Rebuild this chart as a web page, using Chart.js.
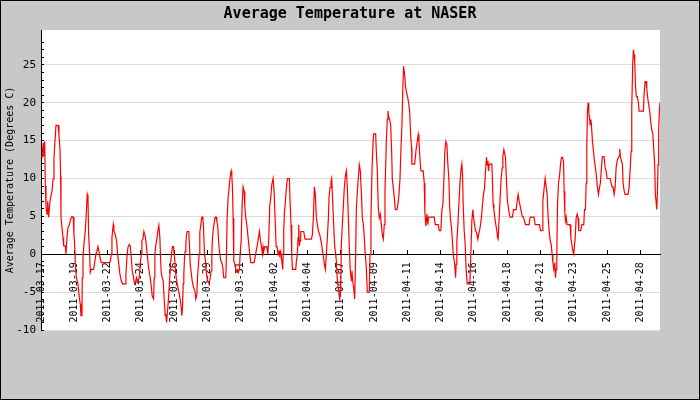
<!DOCTYPE html>
<html><head><meta charset="utf-8">
<script src="https://cdn.jsdelivr.net/npm/chart.js@4/dist/chart.umd.min.js"></script>
<style>
html,body{margin:0;padding:0;background:#c8c8c8;}
#wrap{position:relative;width:700px;height:400px;box-sizing:border-box;border:1px solid #000;background:#c8c8c8;}
canvas{display:block;}
</style></head><body>
<div id="wrap"><canvas id="c" width="698" height="398"></canvas></div>
<script>
// hours since the first tick (2011-03-17)
const hours = [1.7,3.9,5.0,6.2,7.3,8.4,10.1,11.2,12.9,14.6,16.2,18.5,20.2,21.8,23.5,25.2,28.6,30.2,31.9,33.0,33.6,35.3,37.0,38.1,40.9,42.0,43.7,45.4,47.6,49.8,52.1,54.3,55.4,56.6,57.7,59.4,62.2,64.4,66.1,67.2,68.9,69.4,70.6,72.2,74.5,76.2,77.8,79.0,80.1,81.8,82.9,84.6,88.5,90.2,92.4,94.1,95.8,97.4,99.1,101.4,113.7,116.5,118.2,119.3,121.5,122.6,124.9,127.1,128.8,130.5,132.7,135.0,137.2,141.7,142.8,144.5,146.2,148.4,150.1,151.8,153.4,155.7,157.4,159.0,160.7,163.0,165.2,166.9,168.6,169.7,171.4,173.0,175.3,177.0,178.6,180.9,183.7,185.4,187.0,189.3,190.4,191.5,193.2,194.9,196.6,198.2,199.9,201.0,202.2,203.8,205.5,207.2,208.9,
210.0,211.1,212.8,214.5,216.2,217.8,219.5,221.2,222.9,224.6,225.7,227.4,229.0,231.3,233.5,235.2,236.9,238.0,239.1,240.2,241.4,242.5,243.6,244.7,245.8,248.6,249.8,250.9,252.6,254.2,256.5,258.7,260.4,262.1,263.2,264.9,266.0,267.1,268.8,270.5,272.2,273.3,275.0,276.6,278.3,280.0,281.7,282.8,284.5,286.2,287.3,288.4,290.1,291.8,292.9,294.6,295.7,297.4,299.0,300.7,302.4,304.1,305.8,307.4,310.8,311.9,313.0,314.7,316.4,318.1,319.8,320.9,322.0,323.1,324.2,325.9,327.6,329.8,331.0,332.1,333.8,334.9,336.6,338.2,339.9,341.6,342.7,344.4,346.1,347.8,349.4,351.1,352.8,358.4,360.1,361.8,364.0,365.7,367.4,369.0,370.7,372.4,373.5,374.6,376.3,379.7,381.4,383.0,384.7,386.4,388.1,390.3,392.0,393.7,395.4,397.0,398.7,400.4,401.5,403.2,404.9,406.6,407.1,408.2,409.4,411.0,412.7,414.4,417.7,
418.9,420.5,421.7,422.8,428.4,429.5,431.2,432.3,433.4,434.5,435.7,436.8,441.8,444.1,454.7,456.4,458.1,459.7,461.4,463.1,464.8,466.5,468.7,470.9,472.6,474.3,476.5,478.2,479.9,481.6,483.3,484.4,486.1,487.7,488.9,490.5,492.2,493.9,495.6,496.7,498.4,500.6,502.3,504.0,505.1,506.8,508.5,510.1,511.8,513.5,515.2,516.9,518.5,520.2,521.9,523.0,524.1,525.8,527.5,529.2,530.3,532.0,533.7,535.3,537.0,538.7,540.4,542.1,543.7,545.4,547.1,548.8,552.1,553.3,554.9,556.6,558.3,559.4,562.8,563.9,565.6,567.3,568.9,570.6,572.3,574.0,575.7,577.3,578.5,579.6,580.7,582.4,583.5,584.6,586.3,588.0,589.7,590.8,592.5,594.1,595.8,598.6,600.3,602.0,603.7,605.3,607.0,608.7,609.8,611.5,613.2,614.9,616.5,618.2,619.9,621.6,623.3,
623.8,628.3,629.4,631.1,632.8,634.4,635.6,637.2,638.9,642.8,644.5,645.6,647.3,649.0,650.7,651.8,661.3,663.0,668.0,669.7,672.5,674.2,675.9,677.6,679.2,680.9,682.6,684.3,686.0,687.1,688.8,690.4,692.1,693.8,695.5,697.2,698.3,699.4,701.1,702.8,704.4,706.1,707.8,708.9,710.0,711.7,713.4,715.1,716.8,721.2,722.9,724.6,726.3,727.4,729.1,730.8,732.4,734.7,735.8,737.5,739.2,740.8,742.5,744.2,745.9,747.6,749.2,750.4,751.5,752.6,753.7,758.2,759.3,760.4,761.6,763.2,764.9,766.6,767.7,768.8,770.5,772.2,773.9,775.6,776.7,778.4,779.5,781.2,782.8,784.5,786.8,789.0,792.9,794.6,799.1,800.8,802.4,804.1,805.8,807.5,809.2,811.4,813.1,814.8,820.9,822.6,829.3,831.0,
838.4,840.0,842.8,844.0,846.2,847.9,849.6,851.2,852.9,854.6,856.3,858.0,859.6,860.8,862.4,864.1,865.2,866.4,867.5,868.6,870.3,872.0,873.6,875.3,877.0,878.7,879.8,880.9,882.0,883.2,884.8,889.9,891.0,892.7,894.4,896.0,897.2,898.3,900.0,901.6,903.3,904.4,907.8,909.5,912.8,914.0,915.6,916.8,917.9,919.0,920.1,921.2,922.4,923.5,924.6,925.7,927.4,929.1,930.8,932.4,934.1,935.8,937.5,939.2,940.8,942.5,944.2,947.0,948.7,950.4,952.0,957.1,958.8,960.4,962.1,963.8,965.5,967.2,968.8,970.5,972.2,973.3,974.4,976.1,977.8,978.9,980.6,982.3,987.3,989.0,990.7,992.4,993.5,995.2,996.3,997.4,998.5,999.6,1001.3,1003.0,1004.7,1005.8,1013.1,1014.2,1015.9,1017.6,1018.7,1020.4,1022.0,1023.7,1025.4,1027.1,1028.8,1030.4,1032.1,1033.2,1034.4,1035.5,1036.6,1037.7,1038.8,1039.9,1041.0];

// average temperature (degrees C) at each of those times
const temps = [12.7,14.7,12.9,14.9,9.0,6.4,5.3,7.0,4.9,6.6,7.5,8.3,9.9,12.7,14.9,17.0,17.0,15.8,14.0,10.3,4.9,3.5,2.2,1.1,1.1,0,2.2,3.5,3.9,4.6,5.0,4.9,2.6,1.3,-1.1,-3.1,-3.9,-5.7,-6.6,-8.1,-8.1,-3.1,-0.4,1.3,3.1,5.5,7.9,7.5,2.6,0,-2.4,-2.0,-2.0,-1.1,0,0.4,1.0,0.4,-0.4,-1.1,-1.1,-1.0,0,2.2,3.9,3.1,2.6,1.8,0,-1.1,-2.6,-3.5,-3.9,-3.9,-2.6,-0.4,0.9,1.3,1.1,-0.4,-2.2,-3.1,-3.9,-3.7,-3.1,-3.7,-3.1,-1.3,0,1.8,2.0,3.0,2.4,1.3,0,-1.8,-3.1,-4.2,-5.5,-5.9,-3.1,0,1.3,2.0,3.1,3.8,2.2,-0.4,-2.4,-3.1,-3.5,-5.9,-8.1,
-7.9,-9.0,-7.5,-5.7,-3.5,-1.3,0,1.0,1.0,-0.4,-1.8,-3.1,-3.9,-4.8,-5.7,-6.6,-8.1,-7.0,-3.9,-2.6,-0.4,0.4,1.3,2.6,3.0,3.0,0.9,-1.3,-2.4,-3.5,-4.4,-4.8,-5.9,-5.3,-3.1,-1.3,0,2.9,3.9,4.9,4.9,3.5,0,-0.9,-2.6,-3.5,-3.7,-3.9,-3.1,-2.2,0,2.2,3.5,4.4,4.9,4.9,4.4,3.5,1.3,0,-0.9,-1.1,-1.8,-3.1,-3.1,0,4.8,7.5,8.8,10.3,11.0,10.3,8.8,4.8,-0.9,-1.3,-2.0,-2.4,-2.2,-2.4,-1.8,0,1.8,6.4,8.9,8.3,6.4,4.8,3.9,2.6,1.3,0,-1.1,-1.1,-0.4,0.4,1.3,2.2,3.0,1.8,1.1,0,1.0,0.4,1.0,1.0,0,2.0,6.4,7.5,9.2,10.0,8.3,4.8,1.0,1.0,0,0.4,0,0.4,-0.9,-2.0,0,3.1,5.5,7.0,8.8,10.0,10.0,
7.0,3.9,0,-2.0,-2.0,-0.9,0,2.2,3.9,1.1,1.8,3.0,3.0,2.0,2.0,2.6,4.8,8.9,7.9,4.8,3.9,3.1,2.6,1.8,0.9,0,-1.3,-2.0,0,2.2,4.8,7.5,8.8,9.6,10.0,7.0,3.9,1.1,0,-0.9,-3.5,-4.8,-5.9,-4.8,1.3,3.9,6.4,8.8,10.3,11.0,8.8,4.8,0.9,-2.2,-3.5,-2.2,-3.5,-4.4,-5.9,0,5.9,8.3,10.1,11.8,11.0,8.3,4.8,3.9,2.2,0,-1.8,-5.0,-5.0,0,4.8,11.0,14.5,15.9,15.9,13.6,11.0,6.1,4.8,5.3,3.9,2.6,2.0,3.9,8.3,11.4,14.9,17.8,18.9,18.2,17.8,17.1,13.6,9.9,8.8,7.5,5.9,5.9,6.6,7.9,9.9,13.8,17.1,22.4,24.8,23.7,22.1,21.3,20.8,20.0,18.9,15.8,14.0,
11.9,11.9,12.7,14.0,14.9,15.8,14.9,12.7,11.0,11.0,9.4,5.5,3.7,5.3,3.9,4.9,4.9,3.9,3.9,3.1,3.1,5.9,6.6,9.9,13.6,14.9,14.5,11.8,9.9,6.6,4.4,3.5,1.5,-0.4,-1.1,-3.1,-1.3,1.8,3.9,6.6,9.2,11.0,11.9,10.5,6.6,3.1,1.3,-2.2,-3.9,-3.9,0,4.4,5.9,4.9,3.9,3.1,2.9,2.0,2.6,3.1,3.9,4.9,6.6,7.9,8.8,11.0,12.8,11.8,12.3,11.0,11.9,11.9,9.4,6.6,5.9,4.8,3.9,3.1,2.2,2.0,4.8,7.5,10.1,11.4,12.9,13.8,13.4,12.8,9.6,7.0,5.7,4.9,4.9,5.9,5.9,7.0,7.9,7.0,6.4,5.7,5.0,4.9,4.4,3.9,3.9,4.9,4.9,3.9,
3.9,3.1,3.1,7.0,8.8,10.0,8.9,7.9,4.9,3.1,1.8,1.3,0,-1.1,-2.0,-1.1,-3.1,-2.0,0,6.4,9.4,10.3,11.8,12.8,12.8,12.3,8.3,5.5,4.4,4.9,3.9,3.9,2.2,1.3,0.4,0,1.3,2.0,4.8,5.3,4.8,3.1,3.1,3.9,3.9,5.9,5.9,9.4,14.3,18.9,20.0,18.9,18.0,17.1,17.8,17.1,14.9,13.6,12.3,11.4,10.3,8.8,7.9,8.8,9.4,11.4,12.9,12.9,11.4,11.0,10.0,10.0,9.4,8.9,8.9,7.9,8.8,11.4,12.3,12.7,12.9,13.9,12.9,12.3,11.9,9.4,8.4,7.9,7.9,8.8,11.0,13.6,19.3,25.4,27.0,26.3,25.4,22.4,20.8,20.8,20.0,18.9,18.9,21.1,22.8,22.8,21.9,20.6,19.7,18.9,17.5,16.4,16.0,14.0,11.8,7.9,7.0,5.9,7.9,11.8,16.4,18.9,20.0];

// x-axis tick labels, one every 56 hours
const tickLabels = ['2011-03-17','2011-03-19','2011-03-22','2011-03-24','2011-03-26','2011-03-29','2011-03-31','2011-04-02','2011-04-04','2011-04-07','2011-04-09','2011-04-11','2011-04-14','2011-04-16','2011-04-18','2011-04-21','2011-04-23','2011-04-25','2011-04-28'];
const TICK_STEP = 56;
const X_MAX = 1041;

const points = hours.map((h, i) => ({x: h, y: temps[i]}));

const plotBg = {
  id: 'plotBg',
  beforeDraw(chart) {
    const {ctx, chartArea: a} = chart;
    ctx.save();
    ctx.fillStyle = '#ffffff';
    ctx.fillRect(a.left, a.top, a.right - a.left, a.bottom - a.top);
    ctx.restore();
  }
};

const MONO = 'DejaVu Sans Mono';

new Chart(document.getElementById('c'), {
  type: 'line',
  data: {
    datasets: [{
      data: points,
      borderColor: '#ff0000',
      borderWidth: 1.2,
      pointRadius: 0,
      tension: 0,
      fill: false
    }]
  },
  plugins: [plotBg],
  options: {
    responsive: false,
    animation: false,
    devicePixelRatio: 1,
    layout: {padding: {left: 0, right: 0, top: 0, bottom: 69}},
    plugins: {
      legend: {display: false},
      tooltip: {enabled: false},
      title: {
        display: true,
        text: 'Average Temperature at NASER',
        color: '#000',
        font: {family: MONO, size: 15, weight: 'bold'},
        padding: {top: 4, bottom: 7}
      }
    },
    scales: {
      x: {
        type: 'linear',
        position: {y: 0},
        min: 0,
        max: X_MAX,
        afterBuildTicks(s) { s.ticks = tickLabels.map((_, i) => ({value: i * TICK_STEP})); },
        ticks: {
          autoSkip: false,
          maxRotation: 90,
          minRotation: 90,
          color: '#000',
          font: {family: MONO, size: 10},
          padding: 13,
          callback: (v, i) => tickLabels[i]
        },
        grid: {drawOnChartArea: false, tickLength: -5, tickColor: '#000'},
        border: {color: '#000', width: 1}
      },
      y: {
        position: 'left',
        min: -10,
        max: 29.6,
        afterBuildTicks(s) { s.ticks = s.ticks.filter(t => Number.isInteger(t.value)); },
        afterFit(s) { s.width = 40; },
        ticks: {
          stepSize: 1,
          autoSkip: false,
          color: '#000',
          font: {family: MONO, size: 11},
          padding: 8,
          callback: v => (v % 5 === 0 ? String(v) : '')
        },
        grid: {
          color: c => (c.tick && c.tick.value % 5 === 0) ? '#dcdcdc' : 'rgba(0,0,0,0)',
          tickColor: '#000',
          tickLength: -3
        },
        border: {color: '#000', width: 1},
        title: {
          display: true,
          text: 'Average Temperature (Degrees C)',
          color: '#000',
          font: {family: MONO, size: 10},
          padding: {top: 3, bottom: 0}
        }
      },
      yRightMargin: {
        position: 'right',
        display: true,
        afterFit(s) { s.width = 39; },
        ticks: {display: false},
        grid: {display: false},
        border: {display: false}
      }
    }
  }
});
</script>
</body></html>
